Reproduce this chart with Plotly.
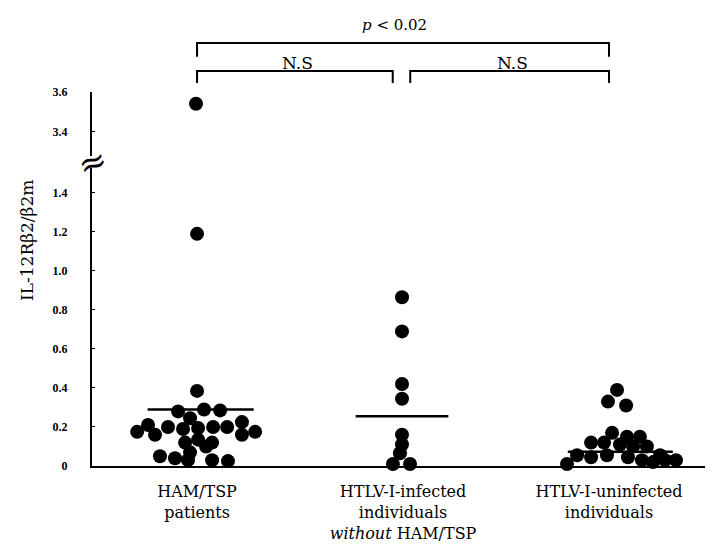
import plotly.graph_objects as go

# ---------------- data ----------------
categories = [
    "HAM/TSP<br>patients",
    "HTLV-I-infected<br>individuals<br><i>without</i> HAM/TSP",
    "HTLV-I-uninfected<br>individuals",
]
category_pos = [1, 2, 3]

ham_values = [3.54, 1.19, 0.385, 0.28, 0.29, 0.285, 0.245, 0.21, 0.20, 0.19,
              0.195, 0.20, 0.20, 0.225, 0.16, 0.175, 0.175, 0.16, 0.12, 0.135,
              0.12, 0.07, 0.10, 0.05, 0.04, 0.03, 0.03, 0.025]
ham_jitter = [-0.005, 0.0, 0.0, -0.092, 0.034, 0.112, -0.034, -0.238, -0.141, -0.068,
              0.005, 0.078, 0.146, 0.218, 0.218, 0.282, -0.291, -0.204, -0.058, 0.005,
              0.073, -0.034, 0.044, -0.180, -0.107, -0.044, 0.073, 0.150]

carrier_values = [0.865, 0.69, 0.42, 0.345, 0.16, 0.11, 0.065, 0.01, 0.01]
carrier_jitter = [-0.005, -0.005, -0.005, -0.005, -0.005, -0.005, -0.015, -0.049, 0.034]

uninf_values = [0.39, 0.33, 0.31, 0.17, 0.15, 0.15, 0.12, 0.12, 0.11, 0.10, 0.10,
                0.055, 0.045, 0.055, 0.045, 0.03, 0.055, 0.02, 0.03, 0.03, 0.01]
uninf_jitter = [0.039, -0.005, 0.083, 0.015, 0.087, 0.150, -0.087, -0.024, 0.053, 0.117, 0.184,
                -0.155, -0.087, -0.010, 0.092, 0.160, 0.248, 0.214, 0.272, 0.325, -0.204]

group_means = [0.29, 0.255, 0.073]
mean_left = [-0.24, -0.23, -0.20]
mean_right = [0.275, 0.22, 0.31]

lower_ticks = [0, 0.2, 0.4, 0.6, 0.8, 1.0, 1.2, 1.4]
lower_ticktext = ["0", "0.2", "0.4", "0.6", "0.8", "1.0", "1.2", "1.4"]
upper_ticks = [3.4, 3.6]
upper_ticktext = ["3.4", "3.6"]
break_low, break_high = 1.528, 3.275

# ---------------- figure ----------------
SERIF = "DejaVu Serif"
TICKSERIF = "Liberation Serif"
fig = go.Figure()

groups = [(ham_values, ham_jitter), (carrier_values, carrier_jitter), (uninf_values, uninf_jitter)]
for pos, (vals, jit) in zip(category_pos, groups):
    lo_x = [pos + j for v, j in zip(vals, jit) if v <= break_low]
    lo_y = [v for v in vals if v <= break_low]
    hi_x = [pos + j for v, j in zip(vals, jit) if v >= break_high]
    hi_y = [v for v in vals if v >= break_high]
    fig.add_trace(go.Scatter(x=lo_x, y=lo_y, mode="markers", xaxis="x", yaxis="y",
                             marker=dict(color="black", size=14, line=dict(width=0)),
                             cliponaxis=False, showlegend=False, hoverinfo="y"))
    if hi_y:
        fig.add_trace(go.Scatter(x=hi_x, y=hi_y, mode="markers", xaxis="x", yaxis="y2",
                                 marker=dict(color="black", size=14, line=dict(width=0)),
                                 cliponaxis=False, showlegend=False, hoverinfo="y"))

for pos, m, l, r in zip(category_pos, group_means, mean_left, mean_right):
    fig.add_trace(go.Scatter(x=[pos + l, pos + r], y=[m, m], mode="lines", xaxis="x", yaxis="y",
                             line=dict(color="black", width=2.5), showlegend=False, hoverinfo="skip"))

axis_font = dict(family=TICKSERIF, size=12, color="black", weight="bold")
common_y = dict(showline=True, linecolor="black", linewidth=2, ticks="inside", ticklen=3,
                tickcolor="black", showgrid=False, zeroline=False, tickfont=axis_font,
                ticklabelstandoff=20, anchor="x", fixedrange=True, automargin=False)

# page body has an 8px margin: figure is sized to fit the 713x550 window from (8, 8)
fig.update_layout(
    width=705, height=542,
    margin=dict(l=84, r=1, t=84, b=84, autoexpand=False),
    paper_bgcolor="white", plot_bgcolor="white",
    font=dict(family=SERIF, color="black"),
    xaxis=dict(range=[0.49, 3.5], tickvals=category_pos, ticktext=categories,
               showline=True, linecolor="black", linewidth=2, ticks="", showgrid=False,
               zeroline=False, anchor="y", tickfont=dict(family=SERIF, size=16, color="black"),
               ticklabelstandoff=10, automargin=False),
    yaxis=dict(domain=[0, 0.797], range=[0, break_low], tickvals=lower_ticks,
               ticktext=lower_ticktext, **common_y),
    yaxis2=dict(domain=[0.829, 1], range=[break_high, 3.6], tickvals=upper_ticks,
                ticktext=upper_ticktext, **common_y),
)

# y title
fig.add_annotation(text="IL-12R\u03b22/\u03b22m", xref="paper", yref="paper", x=-0.105, y=0.604,
                   xanchor="center", yanchor="middle",
                   textangle=-90, showarrow=False, font=dict(family=SERIF, size=17, color="black"))
# axis break symbol
fig.add_annotation(text="\u2248", xref="paper", yref="paper", x=0, y=0.813, showarrow=False,
                   xanchor="center", yanchor="middle", textangle=-20,
                   font=dict(family=SERIF, size=34, color="black"))

# significance brackets
def bracket(x0, x1, ytop, ybot):
    fig.add_shape(type="path", xref="x", yref="paper",
                  path=f"M {x0} {ybot} L {x0} {ytop} L {x1} {ytop} L {x1} {ybot}",
                  line=dict(color="black", width=2))

bracket(1, 3, 1.131, 1.094)
bracket(1, 1.95, 1.056, 1.024)
bracket(2.035, 3, 1.056, 1.024)

fig.add_annotation(text="<i>p</i> < 0.02", xref="x", yref="paper", x=1.96, y=1.179, showarrow=False,
                   xanchor="center", yanchor="middle", font=dict(family=SERIF, size=15, color="black"))
fig.add_annotation(text="N.S", xref="x", yref="paper", x=1.49, y=1.078, showarrow=False,
                   xanchor="center", yanchor="middle", font=dict(family=SERIF, size=17, color="black"))
fig.add_annotation(text="N.S", xref="x", yref="paper", x=2.53, y=1.078, showarrow=False,
                   xanchor="center", yanchor="middle", font=dict(family=SERIF, size=17, color="black"))

fig.write_html("out.html")
